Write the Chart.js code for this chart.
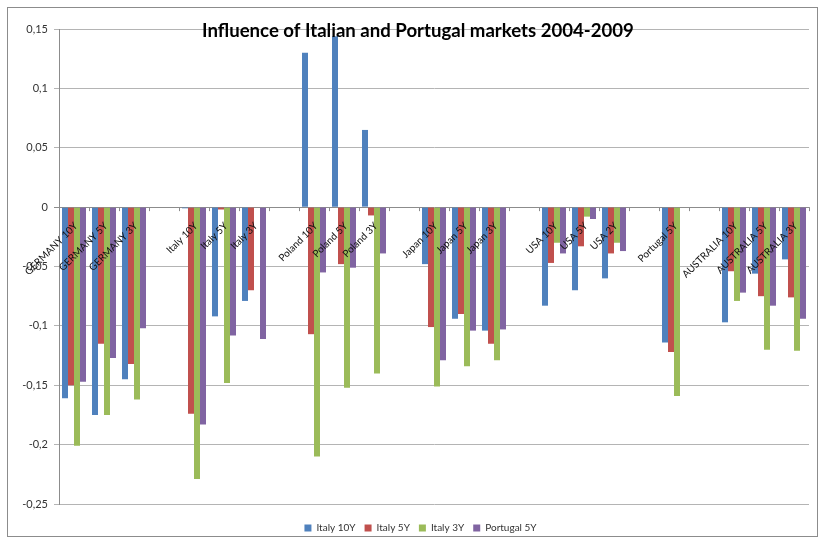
<!DOCTYPE html>
<html>
<head>
<meta charset="utf-8">
<script src="https://cdn.jsdelivr.net/npm/chart.js@4.4.1/dist/chart.umd.min.js"></script>
<style>
	html, body { margin: 0; padding: 0; background: #fff; }
	#wrap { width: 821px; height: 541px; }
</style>
</head>
<body>
<div id="wrap"><canvas id="myChart"></canvas></div>
<script>
const categories = [
	"GERMANY 10Y", "GERMANY 5Y", "GERMANY 3Y", "",
	"Italy 10Y", "Italy 5Y", "Italy 3Y", "",
	"Poland 10Y", "Poland 5Y", "Poland 3Y", "",
	"Japan 10Y", "Japan 5Y", "Japan 3Y", "",
	"USA 10Y", "USA 5Y", "USA 2Y", "",
	"Portugal 5Y", "",
	"AUSTRALIA 10Y", "AUSTRALIA 5Y", "AUSTRALIA 3Y",
];
const italy10Y = [-0.161, -0.175, -0.145, null, -0.001, -0.092, -0.079, null, 0.130, 0.144, 0.065, null, -0.048, -0.094, -0.104, null, -0.083, -0.070, -0.060, null, -0.114, null, -0.097, -0.056, -0.044];
const italy5Y = [-0.150, -0.115, -0.132, null, -0.174, -0.002, -0.070, null, -0.107, -0.048, -0.007, null, -0.101, -0.090, -0.115, null, -0.047, -0.033, -0.039, null, -0.122, null, -0.054, -0.075, -0.076];
const italy3Y = [-0.201, -0.175, -0.162, null, -0.229, -0.148, 0, null, -0.210, -0.152, -0.140, null, -0.151, -0.134, -0.129, null, -0.030, -0.008, -0.030, null, -0.159, null, -0.079, -0.120, -0.121];
const portugal5Y = [-0.147, -0.127, -0.102, null, -0.183, -0.108, -0.111, null, -0.055, -0.051, -0.039, null, -0.129, -0.104, -0.103, null, -0.039, -0.010, -0.037, null, 0, null, -0.072, -0.083, -0.094];
const yTicks = [0.15, 0.1, 0.05, 0, -0.05, -0.1, -0.15, -0.2, -0.25];

const title = "Influence of Italian and Portugal markets 2004-2009";

// frame, title, zero-line ticks and category labels drawn the Excel way
const excelBits = {
	id: "excelBits",
	afterLayout(chart) {
		// nudge the legend a bit right/down like the original
		const lg = chart.legend;
		lg.left += 12;
		lg.right += 12;
		lg.top += 2;
		lg.bottom += 2;
	},
	beforeDraw(chart) {
		const ctx = chart.ctx;
		ctx.save();
		ctx.strokeStyle = "#8c8c8c";
		ctx.lineWidth = 1;
		ctx.strokeRect(7.5, 7.5, 810, 529);
		ctx.restore();
	},
	afterDatasetsDraw(chart) {
		const ctx = chart.ctx;
		const x = chart.scales.x;
		const zeroY = chart.scales.y.getPixelForValue(0);
		const step = x.getPixelForValue(1) - x.getPixelForValue(0);
		ctx.save();
		ctx.strokeStyle = "#8c8c8c";
		ctx.lineWidth = 1;
		ctx.beginPath();
		for (let i = 0; i <= categories.length; i++) {
			const bx = Math.round(x.getPixelForValue(0) - step / 2 + i * step) + 0.5;
			ctx.moveTo(bx, zeroY);
			ctx.lineTo(bx, zeroY + 4);
		}
		ctx.stroke();
		ctx.font = "10px Lato";
		ctx.fillStyle = "#111";
		ctx.textAlign = "right";
		ctx.textBaseline = "middle";
		categories.forEach((lab, i) => {
			if (!lab) return;
			ctx.save();
			ctx.translate(x.getPixelForValue(i) + 2, zeroY + 17);
			ctx.rotate(-Math.PI / 4);
			ctx.fillText(lab, 0, 0);
			ctx.restore();
		});
		ctx.font = "bold 18.6px Lato";
		ctx.fillStyle = "#000";
		ctx.textAlign = "center";
		ctx.fillText(title, 418, 31);
		ctx.restore();
	},
};

new Chart(document.getElementById("myChart"), {
	type: "bar",
	data: {
		labels: categories,
		datasets: [
			{ label: "Italy 10Y", data: italy10Y, backgroundColor: "#4F81BD" },
			{ label: "Italy 5Y", data: italy5Y, backgroundColor: "#C0504D" },
			{ label: "Italy 3Y", data: italy3Y, backgroundColor: "#9BBB59" },
			{ label: "Portugal 5Y", data: portugal5Y, backgroundColor: "#8064A2" },
		],
	},
	options: {
		responsive: true,
		maintainAspectRatio: false,
		animation: false,
		categoryPercentage: 0.8,
		barPercentage: 1.0,
		layout: { padding: { left: 8, right: 12, top: 29, bottom: 0 } },
		plugins: {
			title: { display: false },
			tooltip: { enabled: false },
			legend: {
				position: "bottom",
				labels: {
					boxWidth: 7,
					boxHeight: 7,
					padding: 9,
					color: "#333",
					font: { family: "Lato", size: 10 },
				},
			},
		},
		scales: {
			x: {
				grid: { display: false },
				border: { display: false },
				ticks: { display: false },
			},
			y: {
				min: -0.25,
				max: 0.15,
				afterBuildTicks: (scale) => {
					scale.ticks = yTicks.map((v) => ({ value: v }));
				},
				afterFit: (scale) => {
					scale.width = 51;
				},
				grid: {
					color: (c) => (c.tick && c.tick.value === 0 ? "#8c8c8c" : "#b4b4b4"),
					tickLength: 5,
				},
				border: { color: "#8c8c8c" },
				ticks: {
					color: "#333",
					padding: 6,
					font: { family: "Lato", size: 11 },
					callback: (v) => String(Number(v.toFixed(2))).replace(".", ","),
				},
			},
		},
	},
	plugins: [excelBits],
});
</script>
</body>
</html>
